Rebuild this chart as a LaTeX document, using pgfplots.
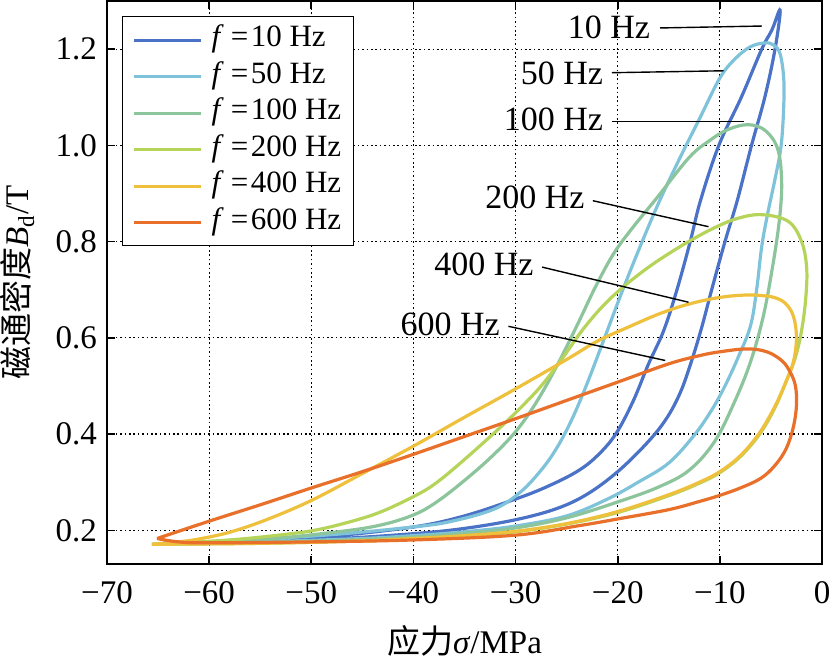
\documentclass[border=0pt]{standalone}
\usepackage{fontspec}
\setmainfont{Liberation Serif}
\newfontfamily\cjk{Noto Sans CJK SC}
\usepackage{pgfplots}
\pgfplotsset{compat=1.18}
\definecolor{cA}{HTML}{4A72C6}
\definecolor{cB}{HTML}{7FC3DA}
\definecolor{cC}{HTML}{8CC49C}
\definecolor{cD}{HTML}{B6D45A}
\definecolor{cE}{HTML}{EEC03C}
\definecolor{cF}{HTML}{E9702A}
\newcommand{\lab}[1]{\textit{f}\hspace{3.5pt}=\hspace{1.2pt}#1 Hz\hspace{6pt}}
\begin{document}
\begin{tikzpicture}[font=\fontsize{16.5}{19.8}\selectfont]
\useasboundingbox (-53.5pt,-48.5pt) rectangle (361.5pt,282pt);
\begin{axis}[
  scale only axis, width=357.5pt, height=281.5pt,
  xmin=-70, xmax=0, ymin=0.13, ymax=1.3,
  xtick={-70,-60,-50,-40,-30,-20,-10,0},
  xticklabels={−70,−60,−50,−40,−30,−20,−10,0},
  ytick={0.2,0.4,0.6,0.8,1.0,1.2},
  yticklabels={0.2,0.4,0.6,0.8,1.0,1.2},
  xtick pos=both, ytick pos=both,
  tick align=inside, major tick length=4pt,
  every tick/.style={line width=0.8pt, black},
  axis line style={line width=1pt},
  xmajorgrids=true, ymajorgrids=true,
  major grid style={black, line width=0.6pt, dash pattern=on 0.8pt off 1.4pt},
  xticklabel style={yshift=-5pt},
  yticklabel style={xshift=-1.5pt},
  xlabel={{\cjk 应力}\textit{σ}/MPa},
  ylabel={{\cjk 磁通密度}\textit{B}\textsubscript{d}/T},
  xlabel style={at={(axis description cs:0.5,-0.137)}, anchor=center},
  ylabel style={at={(axis description cs:-0.125,0.5)}, anchor=center},
  legend style={at={(0.021,0.973)}, anchor=north west, draw=black, line width=0.6pt,
    fill=white, inner xsep=5pt, inner ysep=2.5pt,
    nodes={inner sep=1pt, text height=11.5pt, text depth=4.75pt},
    font=\fontsize{15.5}{18}\selectfont},
  legend cell align=left,
  legend image code/.code={\draw[#1, line width=1.5pt] (0pt,0pt) -- (33.5pt,0pt); \path (37pt,0pt);},
  every axis plot/.append style={line width=1.6pt, smooth, tension=0.6},
]
% 10 Hz
\addplot[cA] coordinates {
(-64.5,0.173) (-55,0.177) (-48,0.182) (-40,0.193) (-35,0.204) (-30,0.222) (-26,0.245) (-23,0.275) (-20,0.322) (-17.2,0.38) (-15.3,0.43) (-13.9,0.485) (-12.8,0.55) (-11.8,0.62) (-10.8,0.7) (-9.5,0.8) (-8.3,0.885) (-6.9,1.0) (-5.6,1.1) (-4.6,1.2) (-4.1,1.281)
(-4.9,1.24) (-5.9,1.2) (-7.9,1.1) (-10.1,1.0) (-11.9,0.885) (-12.9,0.8) (-14.2,0.7) (-15.5,0.615) (-17,0.545) (-18.5,0.468) (-20.2,0.4) (-22,0.355) (-24,0.322) (-27,0.29) (-30,0.265) (-35,0.23) (-40,0.207) (-48,0.188) (-55,0.18) (-64.5,0.173)};
\addlegendentry{\lab{10}}
% 50 Hz
\addplot[cB] coordinates {
(-64.5,0.172) (-55,0.176) (-45,0.183) (-40,0.189) (-35,0.197) (-30,0.209) (-25,0.23) (-21,0.265) (-18,0.3) (-15,0.34) (-12.5,0.398) (-10.8,0.45) (-9.5,0.5) (-8.2,0.56) (-7.0,0.625) (-6.4,0.7) (-5.9,0.79) (-5.3,0.86) (-4.6,0.93) (-4.0,1.0) (-3.75,1.08) (-3.75,1.14) (-4.1,1.19) (-4.7,1.208) (-5.55,1.213)
(-7,1.205) (-8.5,1.18) (-10,1.14) (-12,1.055) (-14,0.97) (-16,0.88) (-17.8,0.79) (-19.5,0.7) (-21.2,0.605) (-23,0.505) (-24.5,0.43) (-26,0.37) (-27.5,0.325) (-29.5,0.28) (-32,0.245) (-36,0.22) (-40,0.207) (-50,0.188) (-64.5,0.172)};
\addlegendentry{\lab{50}}
% 100 Hz
\addplot[cC] coordinates {
(-65.6,0.171) (-55,0.175) (-45,0.181) (-40,0.186) (-35,0.194) (-30,0.205) (-25,0.226) (-20,0.259) (-16,0.29) (-13,0.325) (-10.5,0.385) (-8.5,0.47) (-7,0.55) (-5.8,0.64) (-4.9,0.74) (-4.2,0.84) (-3.95,0.92) (-4.3,0.99) (-5.5,1.03) (-7.2,1.043)
(-9.2,1.033) (-11,1.01) (-13,0.975) (-16.2,0.89) (-18.5,0.83) (-20.4,0.775) (-22.2,0.705) (-24,0.625) (-26,0.54) (-28,0.465) (-30,0.405) (-32.5,0.35) (-35.5,0.295) (-38,0.255) (-40,0.232) (-43,0.212) (-47,0.198) (-55,0.181) (-65.6,0.171)};
\addlegendentry{\lab{100}}
% 200 Hz
\addplot[cD] coordinates {
(-65.6,0.171) (-55,0.173) (-45,0.178) (-40,0.182) (-35,0.188) (-30,0.197) (-25,0.213) (-20,0.237) (-15,0.272) (-12,0.298) (-10,0.32) (-8,0.353) (-6.1,0.4) (-4.6,0.455) (-3.5,0.51) (-2.6,0.56) (-2,0.615) (-1.6,0.68) (-1.5,0.745) (-2.0,0.8) (-3.3,0.842) (-5.9,0.856)
(-8.3,0.848) (-10.6,0.828) (-12.9,0.802) (-15,0.775) (-17.1,0.745) (-19.5,0.705) (-21.5,0.665) (-23.5,0.615) (-25.5,0.555) (-27.5,0.5) (-29.5,0.455) (-31.8,0.408) (-35.5,0.338) (-38,0.295) (-40,0.27) (-43,0.24) (-45.5,0.222) (-49,0.203) (-52,0.193) (-58,0.18) (-65.6,0.171)};
\addlegendentry{\lab{200}}
% 400 Hz
\addplot[cE] coordinates {
(-65.6,0.171) (-55,0.173) (-45,0.178) (-40,0.183) (-35,0.189) (-30,0.198) (-25,0.214) (-20,0.239) (-15,0.274) (-12,0.3) (-10,0.322) (-8,0.355) (-6.1,0.403) (-4.6,0.458) (-3.5,0.51) (-2.8,0.55) (-2.5,0.6) (-2.8,0.645) (-3.6,0.672) (-4.7,0.684) (-6,0.688) (-7.5,0.689) (-10,0.684) (-12.9,0.671) (-15.8,0.651) (-19,0.622) (-22,0.593) (-25,0.555) (-30,0.494) (-35,0.435) (-40,0.375) (-45,0.318) (-50,0.262) (-54.4,0.222) (-58,0.196) (-61,0.182) (-63,0.176) (-65.6,0.171)};
\addlegendentry{\lab{400}}
% 600 Hz
\addplot[cF] coordinates {
(-65.1,0.183) (-63,0.176) (-60,0.174) (-50,0.176) (-40,0.18) (-30,0.19) (-23.7,0.21) (-19.9,0.224) (-15,0.243) (-12,0.26) (-10.1,0.272) (-8.0,0.288) (-6,0.308) (-4.6,0.335) (-3.5,0.37) (-2.8,0.415) (-2.5,0.46) (-2.6,0.5) (-3.1,0.528) (-3.9,0.552) (-5.4,0.571) (-7.35,0.577) (-10,0.571) (-12,0.563) (-15,0.546) (-20,0.508) (-25,0.47) (-30,0.432) (-35,0.395) (-40,0.358) (-45,0.322) (-50,0.288) (-55,0.253) (-60,0.219) (-65.1,0.183)};
\addlegendentry{\lab{600}}
% annotations
\draw[line width=0.7pt] (axis cs:-15.84,1.244) -- (axis cs:-5.88,1.248);
\draw[line width=0.7pt] (axis cs:-20.57,1.151) -- (axis cs:-9.64,1.155);
\draw[line width=0.7pt] (axis cs:-20.57,1.049) -- (axis cs:-7.68,1.049);
\draw[line width=0.7pt] (axis cs:-22.43,0.885) -- (axis cs:-11.11,0.831);
\draw[line width=0.7pt] (axis cs:-27.4,0.747) -- (axis cs:-13.07,0.674);
\draw[line width=0.7pt] (axis cs:-30.7,0.624) -- (axis cs:-15.35,0.553);
\begin{scope}[font=\fontsize{17}{20}\selectfont]
\node[anchor=east, inner sep=0pt] at (axis cs:-16.8,1.245) {10 Hz};
\node[anchor=east, inner sep=0pt] at (axis cs:-21.4,1.149) {50 Hz};
\node[anchor=east, inner sep=0pt] at (axis cs:-21.4,1.054) {100 Hz};
\node[anchor=east, inner sep=0pt] at (axis cs:-23.2,0.892) {200 Hz};
\node[anchor=east, inner sep=0pt] at (axis cs:-28.2,0.752) {400 Hz};
\node[anchor=east, inner sep=0pt] at (axis cs:-31.5,0.629) {600 Hz};
\end{scope}
\end{axis}
\end{tikzpicture}
\end{document}
